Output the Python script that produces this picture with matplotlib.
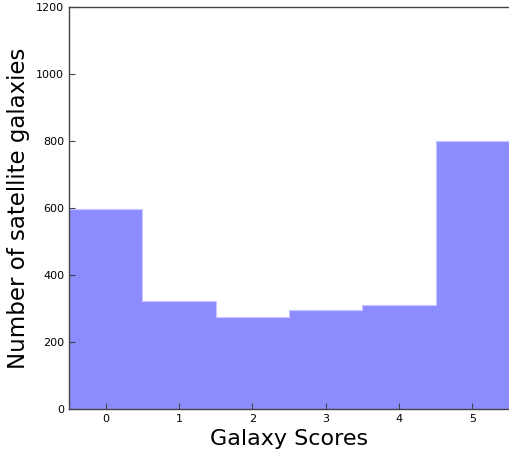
import matplotlib
matplotlib.use("Agg")
import matplotlib.pyplot as plt

scores = [0, 1, 2, 3, 4, 5]
counts = [598, 322, 276, 297, 311, 799]

fig = plt.figure(figsize=(5.09, 4.54), dpi=100)
ax = fig.add_axes([69/509, 1 - 409/454, 440/509, 402/454])

ax.bar(scores, counts, width=1.0, color="#8c8cff", linewidth=0)
# light step outline along the tops
edges = [s - 0.5 for s in scores] + [scores[-1] + 0.5]
ax.stairs(counts, edges, color="#c8c8ff", linewidth=0.8)

ax.set_xlim(-0.5, 5.5)
ax.set_ylim(0, 1200)
ax.set_xticks(scores)
ax.set_yticks(range(0, 1201, 200))
ax.tick_params(direction="in", labelsize=8, length=4, color="#444444")
for s in ax.spines.values():
    s.set_color("#444444")
    s.set_linewidth(1.0)
ax.spines["right"].set_visible(False)

ax.set_xlabel("Galaxy Scores", fontsize=16)
ax.set_ylabel("Number of satellite galaxies", fontsize=16.5)

fig.savefig("out.png", dpi=100)
